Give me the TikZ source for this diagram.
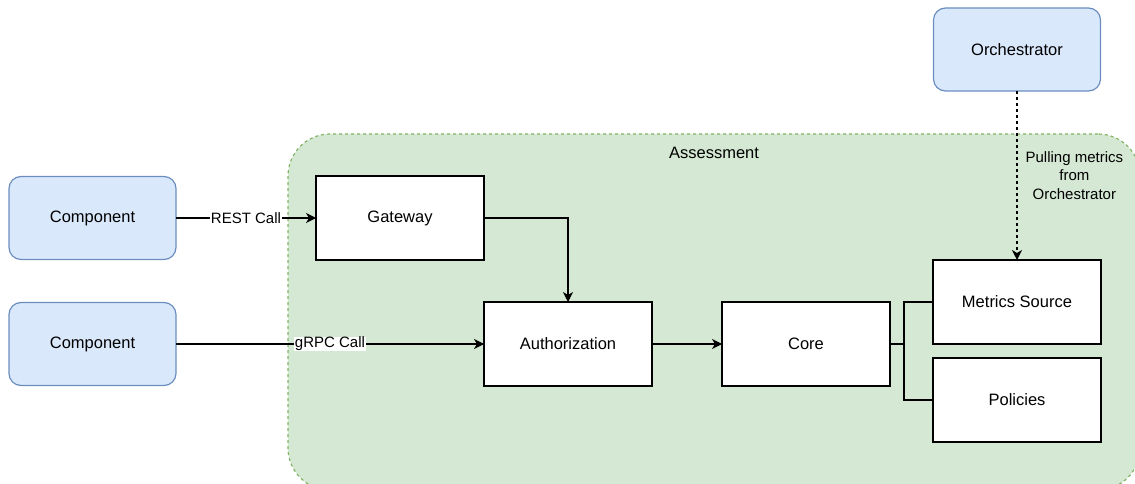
\documentclass[tikz,border=0pt]{standalone}
\usepackage{fontspec}
\setmainfont{Liberation Sans}
\usetikzlibrary{arrows.meta,positioning}
\definecolor{compfill}{HTML}{DAE8FC}
\definecolor{compline}{HTML}{6C8EBF}
\definecolor{regionfill}{HTML}{D5E8D4}
\definecolor{regionline}{HTML}{82B366}

\begin{document}
\begin{tikzpicture}[x=1pt,y=-1pt]
\tikzset{
    component/.style={
           rectangle,
           rounded corners=12pt,
           draw=compline,
           fill=compfill,
           line width=1.2pt,
           outer sep=0pt,
           minimum width=167pt,
           minimum height=83pt,
           font=\fontsize{16.5}{19.8}\selectfont},
    box/.style={
           rectangle,
           draw=black,
           fill=white,
           line width=1.2pt,
           outer sep=0pt,
           minimum width=168pt,
           minimum height=84pt,
           font=\fontsize{16.5}{19.8}\selectfont},
    region/.style={
           rectangle,
           rounded corners=42pt,
           draw=regionline,
           fill=regionfill,
           dash pattern=on 3pt off 3pt,
           line width=1.2pt,
           minimum width=852pt,
           minimum height=356pt},
    calltext/.style={
           fill=white,
           inner sep=0.5pt,
           font=\fontsize{15}{18}\selectfont},
    % Define arrow style
    arrow/.style= {
           -{Stealth[length=10pt,width=10pt,inset=3pt]},
           line width=1.2pt
    }
}
\useasboundingbox (0,0) rectangle (1135,484);
\clip (0,0) rectangle (1135,484);
\node[region] (assess) at (714,312) {};
\node[font=\fontsize{16.5}{19.8}\selectfont] (assesstitle) at ([yshift=-20pt]assess.north) {Assessment};
\node[box] (gateway) at (400,218) {Gateway};
\node[component,left=140pt of gateway] (comp1) {Component};
\node[box,below right=42pt and 0pt of gateway] (auth) {Authorization};
\node[component,left=308pt of auth] (comp2) {Component};
\node[box,right=70pt of auth] (core) {Core};
\node[box,above right=0pt and 43pt of core.east] (metrics) {Metrics Source};
\node[box,below=14pt of metrics] (policies) {Policies};
\node[component,above=169pt of metrics] (orch) {Orchestrator};
\coordinate (split) at ([xshift=14pt]core.east);
\draw[arrow] (comp1) -- node[calltext] {REST Call} (gateway);
\draw[arrow] (comp2) -- node[calltext] {gRPC Call} (auth);
\draw[arrow] (gateway.east) -| (auth.north);
\draw[arrow] (auth) -- (core);
\draw[line width=1.2pt] (core.east) -- (split) |- (metrics.west);
\draw[line width=1.2pt] (split) |- (policies.west);
\draw[arrow,dash pattern=on 3pt off 3pt] (orch) -- node[right=8pt,inner sep=0pt,align=center,font=\fontsize{15}{18.5}\selectfont] {Pulling metrics\\from\\Orchestrator} (metrics);
\end{tikzpicture}
\end{document}
